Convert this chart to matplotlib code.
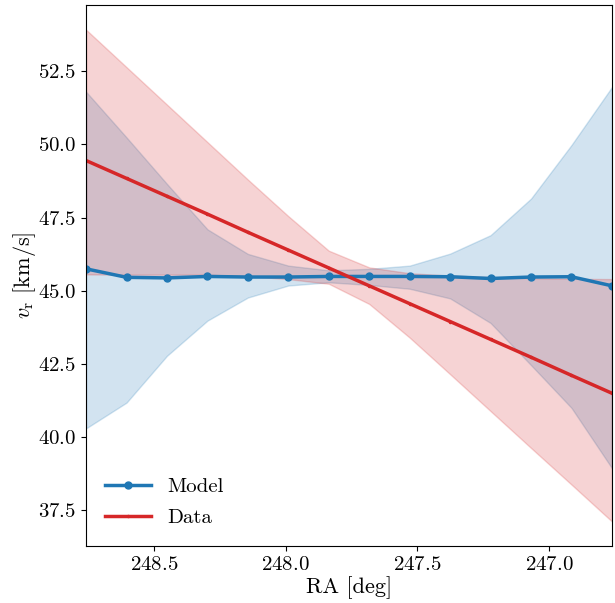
import numpy as np
import matplotlib
matplotlib.use("Agg")
import matplotlib.pyplot as plt

plt.rcParams["font.family"] = "serif"
plt.rcParams["font.serif"] = ["cmr10"]
plt.rcParams["mathtext.fontset"] = "cm"
plt.rcParams["axes.formatter.use_mathtext"] = True

# RA grid (deg), 14 bins
ra = np.linspace(248.758, 246.761, 14)

model_v = [45.75, 45.46, 45.44, 45.49, 45.47, 45.47, 45.49,
           45.49, 45.49, 45.48, 45.42, 45.47, 45.48, 45.17]
model_hi = [51.8, 50.24, 48.65, 47.1, 46.26, 45.86, 45.7,
            45.75, 45.86, 46.27, 46.9, 48.15, 49.98, 51.96]
model_lo = [40.3, 41.18, 42.78, 43.98, 44.77, 45.18, 45.29,
            45.2, 45.07, 44.74, 43.9, 42.46, 41.0, 38.94]

data_v = [49.45, 48.84, 48.23, 47.62, 47.0, 46.39, 45.78,
          45.17, 44.56, 43.95, 43.34, 42.73, 42.11, 41.5]
data_hi = [53.92, 52.64, 51.36, 50.08, 48.8, 47.55, 46.37,
           45.8, 45.6, 45.52, 45.47, 45.43, 45.41, 45.4]
data_lo = [45.56, 45.55, 45.55, 45.55, 45.5, 45.4, 45.24,
           44.55, 43.4, 42.15, 40.89, 39.63, 38.38, 37.12]

fig = plt.figure(figsize=(6.15, 6.03), dpi=100)
ax = fig.add_axes([0.140, 0.0945, 0.855, 0.897])

ax.fill_between(ra, model_lo, model_hi, color="tab:blue", alpha=0.2, lw=1)
ax.plot(ra, model_v, "o-", color="tab:blue", lw=2.5, ms=5, label="Model")

ax.fill_between(ra, data_lo, data_hi, color="tab:red", alpha=0.2, lw=1)
ax.plot(ra, data_v, ".-", color="tab:red", lw=2.5, ms=3, label="Data")

ax.set_xlim(ra[0], ra[-1])
ax.set_xticks([248.5, 248.0, 247.5, 247.0])
ax.tick_params(labelsize=15)
ax.set_xlabel("RA [deg]", fontsize=16, labelpad=2)
ax.set_ylabel(r"$v_{\rm r}$ [km/s]", fontsize=16, labelpad=0)
ax.legend(loc="lower left", frameon=False, fontsize=15,
          handlelength=2.2, labelspacing=0.6,
          bbox_to_anchor=(0.0, 0.0))

fig.savefig("out.png", dpi=100)
